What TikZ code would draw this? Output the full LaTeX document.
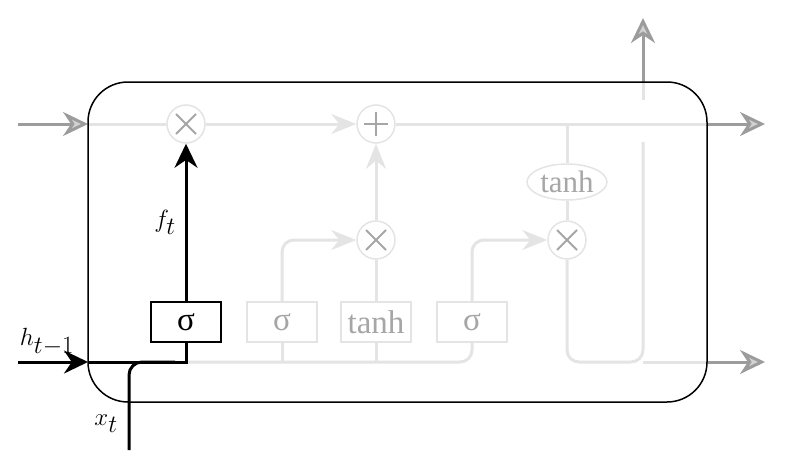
\documentclass[tikz,border=0pt]{standalone}
\usepackage{fontspec}
\setmainfont{Liberation Serif}
\usetikzlibrary{arrows.meta,shapes.geometric,positioning}

\definecolor{faint}{HTML}{E4E4E4}
\definecolor{mute}{HTML}{A6A6A6}
\definecolor{outer}{HTML}{9C9C9C}

\tikzset{
  gatebox/.style={draw=faint, line width=1.5pt, fill=white, minimum width=70pt, minimum height=40pt, inner sep=0pt, text=mute, font=\fontsize{33}{33}\selectfont},
  opnode/.style={circle, draw=faint, line width=1.5pt, fill=white, minimum size=38pt, inner sep=0pt},
  timesop/.style={opnode, path picture={
      \draw[mute, line width=1.8pt] ([shift={(-10,-10)}]path picture bounding box.center) -- ([shift={(10,10)}]path picture bounding box.center);
      \draw[mute, line width=1.8pt] ([shift={(-10,10)}]path picture bounding box.center) -- ([shift={(10,-10)}]path picture bounding box.center);}},
  plusop/.style={opnode, path picture={
      \draw[mute, line width=1.8pt] ([shift={(-12,0)}]path picture bounding box.center) -- ([shift={(12,0)}]path picture bounding box.center);
      \draw[mute, line width=1.8pt] ([shift={(0,-12)}]path picture bounding box.center) -- ([shift={(0,12)}]path picture bounding box.center);}},
  flow/.style={faint, line width=3pt, rounded corners=12pt},
  flowarrow/.style={flow, -{Stealth[length=25pt,width=20pt]}},
  outflow/.style={outer, line width=3pt, -{Stealth[length=25pt,width=24pt,inset=8pt,fill=outer!45]}},
  live/.style={black, line width=3pt},
  livearrow/.style={live, -{Stealth[length=24pt,width=23pt]}},
  lbl/.style={font=\fontsize{33}{33}\selectfont}
}

\begin{document}
\begin{tikzpicture}[x=1pt,y=-1pt]
    \useasboundingbox (0,0) rectangle (785,455);

    % operations
    \node[timesop] (mf) at (186,124) {};
    \node[plusop] (add) at (376,124) {};
    \node[timesop] (mi) at (376,240) {};
    \node[timesop] (mo) at (567,240) {};
    \node[ellipse, draw=faint, line width=1.5pt, fill=white, minimum width=80pt, minimum height=36pt, inner sep=0pt, text=mute, font=\fontsize{31}{31}\selectfont] (th) at (567,182) {tanh};

    % gates
    \node[gatebox, draw=black, text=black] (fg) at (186,322) {σ};
    \node[gatebox] (ig) at (282,322) {σ};
    \node[gatebox] (cg) at (376,322) {tanh};
    \node[gatebox] (og) at (472,322) {σ};

    % helper points
    \coordinate (cin) at (18,124);
    \coordinate (cl) at (88,124);
    \coordinate (cr) at (707,124);
    \coordinate (cout) at (765,124);
    \coordinate (hin) at (18,362);
    \coordinate (hl) at (88,362);
    \coordinate (hr) at (707,362);
    \coordinate (hout) at (765,362);
    \coordinate (xin) at (129,450);
    \coordinate (bj) at (643,362);
    \coordinate (vt) at (643,142);
    \coordinate (up0) at (643,100);
    \coordinate (up1) at (643,82);
    \coordinate (upout) at (643,18);

    % faded flow
    \draw[flow] (cl) -- (mf);
    \draw[flowarrow] (mf) -- (add);
    \draw[flow] (add) -- (cr);
    \draw[flow] (567,124) -- (th);
    \draw[flow] (th) -- (mo);
    \draw[flow] (mo) |- (bj) -- (vt);
    \draw[flow] (bj) -- (hr);
    \draw[flow] (up0) -- (up1);
    \draw[flow] (188,362) -| (og);
    \draw[flow] (ig) -- (282,362);
    \draw[flow] (cg) -- (376,362);
    \draw[flowarrow] (ig) |- (mi);
    \draw[flowarrow] (og) |- (mo);
    \draw[flow] (cg) -- (mi);
    \draw[flowarrow] (mi) -- (add);

    % outside
    \draw[outflow] (cin) -- (cl);
    \draw[outflow] (cr) -- (cout);
    \draw[outflow] (hr) -- (hout);
    \draw[outflow] (up1) -- (upout);

    % cell
    \draw[line width=1.5pt, rounded corners=40pt] (88,82) rectangle (707,402);

    % forget gate path
    \draw[livearrow] (hin) -- (hl);
    \draw[live] (hl) -| (fg);
    \draw[live, rounded corners=13pt] (xin) |- (175,362);
    \draw[livearrow] (fg) -- (mf);

    % labels
    \node[lbl] (flab) at (165,222) {$f_t$};
    \node[lbl] (hlab) at (47,342) {$h_{t-1}$};
    \node[lbl] (xlab) at (106,424) {$x_t$};
\end{tikzpicture}
\end{document}
